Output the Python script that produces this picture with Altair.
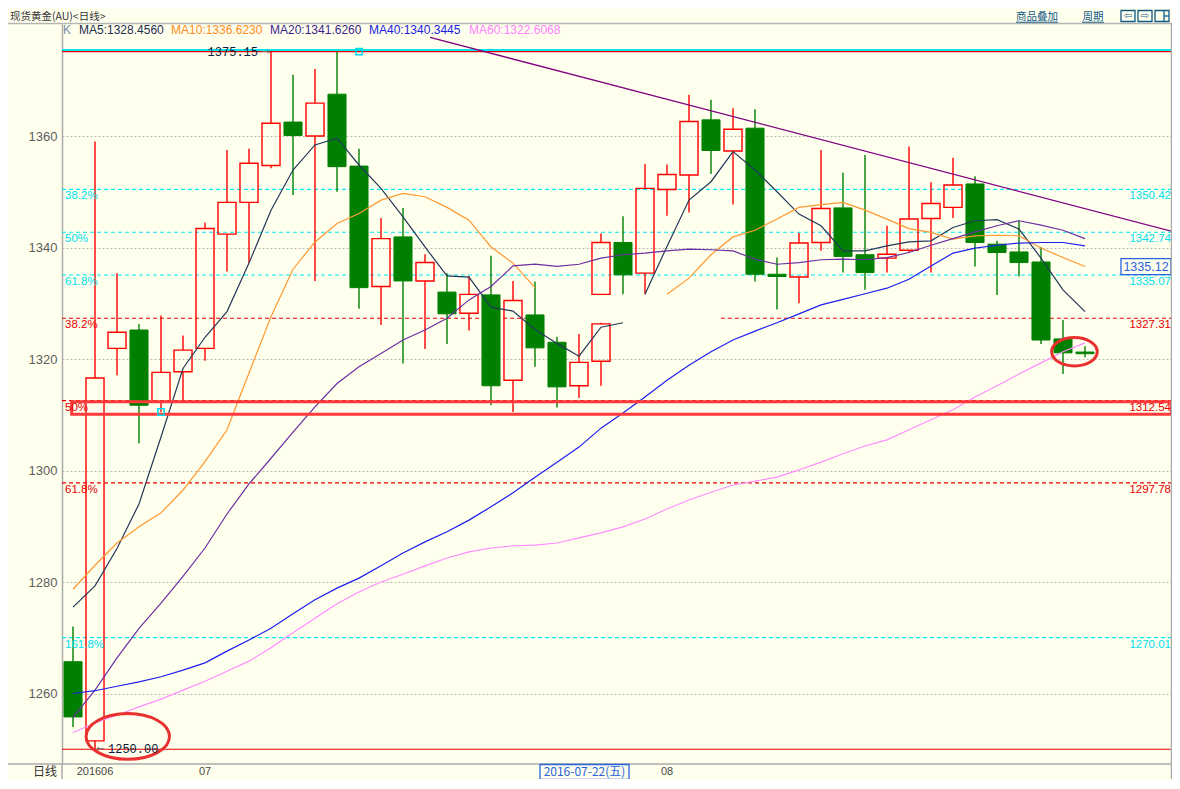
import altair as alt
import pandas as pd

BG = "#FFFFEE"
W, H = 1110, 740
YMAX = 1380.09
YMIN = YMAX - H / 5.575
XMIN, XMAX = -0.5, -0.5 + W / 22.0

# ---------------- candles: left block idx 0-24, right block idx 24-46 ----------------
cdl_idx = list(range(0, 25)) + list(range(24, 47))
cdl_open = [1265.7, 1251.5, 1321.9, 1325.2, 1312.4, 1317.7, 1321.9, 1342.4, 1348.1, 1354.7,
            1362.5, 1360.0, 1367.5, 1354.6, 1333.0, 1341.9, 1334.0, 1332.0, 1328.2, 1331.5,
            1316.2, 1327.9, 1323.0, 1315.2, 1319.6,
            1331.6, 1340.9, 1335.4, 1350.4, 1353.0, 1362.9, 1357.3, 1361.4, 1335.2, 1334.7,
            1340.9, 1347.1, 1338.7, 1338.1, 1339.5, 1345.2, 1347.2, 1351.4, 1340.6, 1339.2,
            1337.4, 1323.6, 1321.25]
cdl_close = [1255.8, 1316.6, 1324.8, 1311.7, 1317.6, 1321.6, 1343.4, 1348.1, 1355.1, 1362.3,
             1360.1, 1365.9, 1354.5, 1332.8, 1341.6, 1334.0, 1337.3, 1328.1, 1331.6, 1315.2,
             1330.5, 1322.0, 1315.0, 1319.4, 1326.3,
             1340.9, 1335.1, 1350.6, 1353.1, 1362.6, 1357.4, 1361.2, 1335.2, 1334.8, 1340.8,
             1347.0, 1338.4, 1335.5, 1338.8, 1345.1, 1347.9, 1351.2, 1340.9, 1339.1, 1337.3,
             1323.4, 1321.1, 1320.95]
cdl_high = [1272.0, 1359.0, 1335.4, 1326.3, 1327.8, 1324.2, 1344.5, 1357.5, 1357.7, 1375.15,
            1371.0, 1372.0, 1375.15, 1357.7, 1345.3, 1347.1, 1338.8, 1335.4, 1334.9, 1338.5,
            1334.0, 1333.9, 1324.0, 1324.5, 1326.5,
            1342.5, 1345.6, 1355.0, 1354.9, 1367.4, 1366.5, 1365.0, 1364.8, 1338.2, 1342.6,
            1357.5, 1353.4, 1356.6, 1343.9, 1358.1, 1351.7, 1356.1, 1352.8, 1341.2, 1344.8,
            1340.1, 1327.0, 1322.3]
cdl_low = [1254.0, 1250.0, 1317.1, 1304.9, 1310.5, 1312.6, 1319.7, 1335.7, 1337.2, 1354.2,
           1349.4, 1334.0, 1350.0, 1329.0, 1326.1, 1319.2, 1321.8, 1322.7, 1325.1, 1311.7,
           1310.5, 1318.6, 1311.3, 1313.0, 1315.2,
           1331.6, 1331.6, 1331.6, 1345.7, 1346.3, 1353.2, 1347.7, 1333.9, 1328.9, 1330.0,
           1339.4, 1335.5, 1332.4, 1335.5, 1339.0, 1335.5, 1345.3, 1336.6, 1331.5, 1334.8,
           1322.7, 1317.3, 1320.3]

# ---------------- moving averages ----------------
ma5_idx_a = list(range(0, 26))
ma5_a = [1275.5, 1279.3, 1286.0, 1294.0, 1306.0, 1318.3, 1323.9, 1328.5, 1337.2, 1346.7,
         1353.9, 1358.4, 1359.6, 1354.8, 1350.6, 1345.5, 1340.1, 1334.9, 1334.7, 1329.3,
         1328.6, 1325.3, 1322.8, 1320.5, 1325.7, 1326.5]
ma5_idx_b = list(range(26, 47))
ma5_b = [1331.6, 1340.2, 1348.5, 1351.8, 1357.2, 1353.9, 1350.0, 1346.0, 1343.9, 1339.4,
         1339.4, 1340.3, 1341.0, 1341.2, 1343.6, 1344.8, 1345.0, 1343.3, 1338.1, 1332.4, 1328.5]
ma10_idx_a = list(range(0, 22))
ma10_a = [1278.7, 1283.0, 1287.0, 1289.9, 1292.4, 1296.5, 1301.6, 1307.3, 1317.5, 1327.6,
          1336.1, 1341.0, 1344.3, 1346.1, 1348.5, 1349.7, 1349.1, 1347.2, 1344.9, 1340.1,
          1337.2, 1332.8]
ma10_idx_b = list(range(27, 47))
ma10_b = [1331.6, 1334.5, 1338.7, 1341.9, 1343.1, 1345.1, 1347.2, 1347.7, 1348.1, 1346.7,
          1345.1, 1343.4, 1342.7, 1341.5, 1342.1, 1342.2, 1342.1, 1339.9, 1338.2, 1336.6]
ma_idx = list(range(0, 47))
ma20 = [1255.7, 1260.6, 1266.4, 1271.7, 1276.2, 1281.0, 1286.1, 1292.2, 1297.6, 1302.2,
        1306.9, 1311.4, 1315.6, 1318.6, 1321.0, 1323.4, 1325.2, 1327.3, 1330.6, 1333.0,
        1336.7, 1337.0, 1336.6, 1337.0, 1338.1, 1338.7, 1339.0, 1339.4, 1339.7, 1339.6,
        1339.4, 1337.9, 1337.0, 1337.3, 1337.8, 1337.9, 1337.8, 1338.2, 1339.1, 1340.4,
        1341.6, 1342.8, 1343.9, 1344.8, 1344.0, 1343.1, 1341.6]
ma40 = [1260.0, 1260.5, 1261.3, 1262.1, 1263.0, 1264.2, 1265.5, 1267.6, 1269.6, 1271.7,
        1274.3, 1276.8, 1278.9, 1280.7, 1282.9, 1285.2, 1287.2, 1289.0, 1291.1, 1293.5,
        1296.0, 1298.8, 1301.5, 1304.2, 1307.6, 1310.3, 1313.2, 1316.2, 1318.9, 1321.3,
        1323.4, 1325.0, 1326.5, 1328.1, 1329.7, 1330.7, 1331.7, 1332.7, 1334.3, 1336.7,
        1339.0, 1339.9, 1340.4, 1340.8, 1340.9, 1340.9, 1340.3]
ma60 = [1253.0, 1254.7, 1256.1, 1257.6, 1259.0, 1260.6, 1262.2, 1264.0, 1265.8, 1268.2,
        1270.9, 1273.5, 1276.1, 1278.2, 1280.0, 1281.4, 1282.9, 1284.3, 1285.4, 1286.1,
        1286.5, 1286.6, 1287.0, 1287.9, 1288.8, 1289.9, 1291.3, 1293.1, 1294.7, 1296.1,
        1297.4, 1298.1, 1298.8, 1300.1, 1301.5, 1303.0, 1304.4, 1305.5, 1307.3, 1309.1,
        1310.9, 1313.2, 1315.2, 1317.3, 1319.3, 1321.3, 1322.9]
ma_names = ["MA5", "MA10", "MA20", "MA40", "MA60"]
ma_colors = ["#24385A", "#FF9830", "#6A2FA0", "#1E1EF0", "#FF8CFF"]
header_texts = ["MA5:1328.4560", "MA10:1336.6230", "MA20:1341.6260", "MA40:1340.3445", "MA60:1322.6068"]
header_colors = ["#1E2D4F", "#FF8C1A", "#3C1E8C", "#1C1CE0", "#FF80FF"]

# ---------------- Fibonacci levels ----------------
fib_cyan = [1350.42, 1342.74, 1335.07, 1270.01]
fib_cyan_lab = ["38.2%", "50%", "61.8%", "161.8%"]
fib_red = [1327.31, 1312.54, 1297.78]
fib_red_lab = ["38.2%", "50%", "61.8%"]
hi_price, lo_price, hi_idx, lo_idx = 1375.15, 1250.00, 9, 1
last_price = 1335.12
trend_idx = [16.23, 50.23]
trend_val = [1377.7, 1342.6]
xlab_idx = [1, 6, 27]
xlab_txt = ["201606", "07", "08"]

# ---------------- tables ----------------
cd = pd.DataFrame({"idx": cdl_idx, "o": cdl_open, "c": cdl_close, "h": cdl_high, "l": cdl_low})
cd["top"] = cd[["o", "c"]].max(axis=1)
cd["bot"] = cd[["o", "c"]].min(axis=1)
cd["x0"] = cd["idx"] - 0.41
cd["x1"] = cd["idx"] + 0.41
cd["up"] = cd["c"] >= cd["o"]
up = cd[cd["up"]]
dn = cd[~cd["up"]]

ma_series = {
    "MA5": [(ma5_idx_a, ma5_a), (ma5_idx_b, ma5_b)],
    "MA10": [(ma10_idx_a, ma10_a), (ma10_idx_b, ma10_b)],
    "MA20": [(ma_idx, ma20)],
    "MA40": [(ma_idx, ma40)],
    "MA60": [(ma_idx, ma60)],
}

fseg_c = pd.DataFrame({"lvl": fib_cyan, "xs": [XMIN] * 4, "xe": [XMAX] * 4})
red_rows = []
for lv in fib_red:
    if lv == 1327.31:
        red_rows.append({"lvl": lv, "xs": XMIN, "xe": 21.1})
        red_rows.append({"lvl": lv, "xs": 29.45, "xe": XMAX})
    else:
        red_rows.append({"lvl": lv, "xs": XMIN, "xe": XMAX})
fseg_r = pd.DataFrame(red_rows)
flab_c = pd.DataFrame({"lvl": fib_cyan, "pct": fib_cyan_lab, "val": [f"{v:.2f}" for v in fib_cyan]})
flab_r = pd.DataFrame({"lvl": fib_red, "pct": fib_red_lab, "val": [f"{v:.2f}" for v in fib_red]})

xsc = alt.Scale(domain=[XMIN, XMAX], nice=False, zero=False)
ysc = alt.Scale(domain=[YMIN, YMAX], nice=False, zero=False)
yaxis = alt.Axis(values=[1260, 1280, 1300, 1320, 1340, 1360], format="d", title=None, grid=True,
                 gridDash=[2, 2], gridColor="#BBBBBB", ticks=False, labelPadding=5,
                 labelFont="Liberation Sans", labelFontSize=13, labelColor="#5E5E5E",
                 domainColor="#AAAAAA", domainWidth=1.5)


def X(f):
    return alt.X(f, type="quantitative", scale=xsc, axis=None)


def Y(f):
    return alt.Y(f, type="quantitative", scale=ysc, axis=yaxis)


ONE = pd.DataFrame({"k": [0]})
CYAN, RED = "#00E8F2", "#E80000"
CYAN_T = "#00E0EE"
GREEN = "#008000"


def label(px, py, s, color, size=12, font="Liberation Sans", align="left", **kw):
    return alt.Chart(ONE).mark_text(text=s, align=align, baseline="middle", font=font,
                                    fontSize=size, color=color, **kw).encode(
        x=alt.value(px), y=alt.value(py))


def hline(x1, x2, y, color, width=1.0, **kw):
    return alt.Chart(ONE).mark_rule(color=color, strokeWidth=width, **kw).encode(
        x=alt.value(x1), x2=alt.value(x2), y=alt.value(y))


def vline(x, y1, y2, color, width=1.0):
    return alt.Chart(ONE).mark_rule(color=color, strokeWidth=width).encode(
        x=alt.value(x), y=alt.value(y1), y2=alt.value(y2))


def box(px, py, w, h, color, sw=1.2):
    r = h / w
    path = f"M-1,-{r:.4f}L1,-{r:.4f}L1,{r:.4f}L-1,{r:.4f}Z"
    return alt.Chart(ONE).mark_point(shape=path, size=w * w, filled=False, color=color,
                                     strokeWidth=sw, opacity=1).encode(
        x=alt.value(px), y=alt.value(py))


layers = []

# fib dashed lines
layers.append(alt.Chart(fseg_c).mark_rule(strokeDash=[4, 3], strokeWidth=1.2, color=CYAN).encode(
    x=X("xs"), x2="xe", y=Y("lvl")))
layers.append(alt.Chart(fseg_r).mark_rule(strokeDash=[4, 3], strokeWidth=1.2, color=RED).encode(
    x=X("xs"), x2="xe", y=Y("lvl")))

# high / low solid lines
hl = pd.DataFrame({"lvl": [hi_price, lo_price], "xs": [XMIN, XMIN], "xe": [XMAX, XMAX]})
layers.append(alt.Chart(hl).mark_rule(color=RED, strokeWidth=1.2).encode(x=X("xs"), x2="xe", y=Y("lvl")))
layers.append(alt.Chart(hl.iloc[[0]]).mark_rule(color="#00E5EE", strokeWidth=2, yOffset=-1.5).encode(
    x=X("xs"), x2="xe", y=Y("lvl")))

# wicks
for part, col in [(up, "#FF0000"), (dn, GREEN)]:
    layers.append(alt.Chart(part).mark_rule(strokeWidth=1.4, color=col).encode(x=X("idx"), y=Y("l"), y2="bot"))
    layers.append(alt.Chart(part).mark_rule(strokeWidth=1.4, color=col).encode(x=X("idx"), y=Y("top"), y2="h"))

# bodies
layers.append(alt.Chart(up).mark_rect(filled=False, color="#FF0000", strokeWidth=1.4).encode(
    x=X("x0"), x2="x1", y=Y("top"), y2="bot"))
layers.append(alt.Chart(dn).mark_rect(color=GREEN, stroke=GREEN, strokeWidth=1).encode(
    x=X("x0"), x2="x1", y=Y("top"), y2="bot"))

# moving averages (one layer per series, segments kept apart by 'g')
for name, col in zip(ma_names, ma_colors):
    rows = []
    for si, (ix, vals) in enumerate(ma_series[name]):
        for i, v in zip(ix, vals):
            rows.append({"g": si, "idx": i, "v": v})
    layers.append(alt.Chart(pd.DataFrame(rows)).mark_line(strokeWidth=1.2, color=col).encode(
        x=X("idx"), y=Y("v"), detail="g:N", order="idx:Q"))

# trend line
tr = pd.DataFrame({"idx": trend_idx, "v": trend_val})
layers.append(alt.Chart(tr).mark_line(color="#800080", strokeWidth=1.3, clip=True).encode(x=X("idx"), y=Y("v")))

# red highlight rectangle
rb = pd.DataFrame({"x0": [-0.06], "x1": [XMAX - 0.03], "y0": [1310.1], "y1": [1312.35]})
layers.append(alt.Chart(rb).mark_rect(filled=False, color="#FF3A3A", strokeWidth=3).encode(
    x=X("x0"), x2="x1", y=Y("y0"), y2="y1"))

# cyan squares
sq = pd.DataFrame({"idx": [13, 4], "v": [hi_price, 1310.5]})
layers.append(alt.Chart(sq).mark_point(shape="square", size=40, filled=False, color="#00D8EE",
                                       strokeWidth=1.5, opacity=1).encode(x=X("idx"), y=Y("v")))

# ellipses
e1 = pd.DataFrame({"idx": [2.49], "v": [1252.3]})
e2 = pd.DataFrame({"idx": [45.52], "v": [1321.3]})
layers.append(alt.Chart(e1).mark_point(shape="M-1,0A1,0.55,0,1,1,1,0A1,0.55,0,1,1,-1,0Z", size=83.4 ** 2,
                                       filled=False, color="#E8302F", strokeWidth=3, opacity=1).encode(
    x=X("idx"), y=Y("v")))
layers.append(alt.Chart(e2).mark_point(shape="M-1,0A1,0.62,0,1,1,1,0A1,0.62,0,1,1,-1,0Z", size=45.6 ** 2,
                                       filled=False, color="#E8302F", strokeWidth=3, opacity=1).encode(
    x=X("idx"), y=Y("v")))

# fib labels
for fl, col in [(flab_c, CYAN_T), (flab_r, RED)]:
    layers.append(alt.Chart(fl).mark_text(align="left", baseline="middle", dy=7, font="Liberation Sans",
                                          fontSize=11.5, color=col).encode(
        x=alt.value(3), y=Y("lvl"), text="pct:N"))
    layers.append(alt.Chart(fl).mark_text(align="right", baseline="middle", dy=7, font="Liberation Sans",
                                          fontSize=11.5, color=col).encode(
        x=alt.value(W - 1), y=Y("lvl"), text="val:N"))

# high / low price labels
hp = pd.DataFrame({"idx": [hi_idx], "v": [hi_price], "t": [f"{hi_price:.2f}"]})
lp = pd.DataFrame({"idx": [lo_idx], "v": [lo_price], "t": [f"{lo_price:.2f}"]})
layers.append(alt.Chart(hp).mark_text(align="right", baseline="middle", dx=-13, font="Liberation Mono",
                                      fontSize=12, color="#0A1A3A").encode(x=X("idx"), y=Y("v"), text="t:N"))
layers.append(alt.Chart(hp).mark_text(align="right", baseline="middle", dx=-1, text="→", font="DejaVu Sans",
                                      fontSize=10, color="#707070").encode(x=X("idx"), y=Y("v")))
layers.append(alt.Chart(lp).mark_text(align="left", baseline="middle", dx=13, font="Liberation Mono",
                                      fontSize=12, color="#0A1A3A").encode(x=X("idx"), y=Y("v"), text="t:N"))
layers.append(alt.Chart(lp).mark_text(align="left", baseline="middle", dx=1, text="←", font="DejaVu Sans",
                                      fontSize=10, color="#707070").encode(x=X("idx"), y=Y("v")))

# last price box
lpb = pd.DataFrame({"v": [last_price], "t": [f"{last_price:.2f}"]})
layers.append(alt.Chart(lpb).mark_point(shape="M-1,-0.32L1,-0.32L1,0.32L-1,0.32Z", size=2500, filled=False,
                                        color="#2A62E0", strokeWidth=1.3, opacity=1, yOffset=-8).encode(
    x=alt.value(W - 26), y=Y("v")))
layers.append(alt.Chart(lpb).mark_text(align="center", baseline="middle", dy=-8, font="Liberation Sans",
                                       fontSize=12.5, color="#2A62E0").encode(
    x=alt.value(W - 26), y=Y("v"), text="t:N"))

# frame lines
layers.append(hline(-54, W, -0.5, "#B5B5B5", 1.5))
layers.append(hline(-54, W, H, "#AAAAAA", 1.5))
layers.append(vline(0, H, H + 16, "#AAAAAA", 1.5))
layers.append(vline(W - 0.5, -0.5, H + 16, "#AAAAAA", 1.5))

# header row
HR = 5.5
layers.append(label(1, HR, "K", "#7A8CA0", 12))
for px, t, c in zip([17, 109, 208, 307, 407], header_texts, header_colors):
    layers.append(label(px, HR, t, c, 12))

# title bar
TB = -7
layers.append(label(-52, TB, "现货黄金(AU)<日线>", "#333333", 10.5, font="Noto Sans CJK SC"))
layers.append(label(975, TB, "商品叠加", "#125A85", 10.5, font="Noto Sans CJK SC", align="center"))
layers.append(hline(954, 996, -1.8, "#125A85", 1))
layers.append(label(1031, TB, "周期", "#125A85", 10.5, font="Noto Sans CJK SC", align="center"))
layers.append(hline(1020, 1042, -1.8, "#125A85", 1))
for bx in [1066, 1083, 1100]:
    layers.append(box(bx, TB - 1, 14, 11, "#125A85", 1.3))
layers.append(label(1066, TB - 1, "⇦", "#125A85", 10, font="DejaVu Sans", align="center"))
layers.append(label(1083, TB - 1, "⇨", "#125A85", 10, font="DejaVu Sans", align="center"))
layers.append(vline(1102, TB - 6, TB + 4, "#125A85", 1.3))
layers.append(hline(1102, 1107, TB - 1, "#125A85", 1.3))

# bottom axis labels
xl = pd.DataFrame({"idx": xlab_idx, "t": xlab_txt})
layers.append(alt.Chart(xl).mark_text(align="center", baseline="middle", font="Liberation Sans",
                                      fontSize=11, color="#4A4A4A").encode(
    x=X("idx"), y=alt.value(H + 8), text="t:N"))
layers.append(label(-17, H + 8, "日线", "#333333", 12, font="Noto Sans CJK SC", align="center"))
layers.append(box(522.5, H + 8, 89, 15, "#2A62E0", 1.3))
layers.append(label(522.5, H + 8, "2016-07-22(五)", "#2A62E0", 12, font="Noto Sans CJK SC", align="center"))

chart = alt.layer(*layers).properties(
    width=W, height=H,
    autosize=alt.AutoSizeParams(type="none"),
    padding={"left": 54, "top": 16, "right": 0, "bottom": 15},
    background=BG,
).configure_view(stroke="transparent")

chart.save("out.html", embed_options={"renderer": "svg", "actions": False})
